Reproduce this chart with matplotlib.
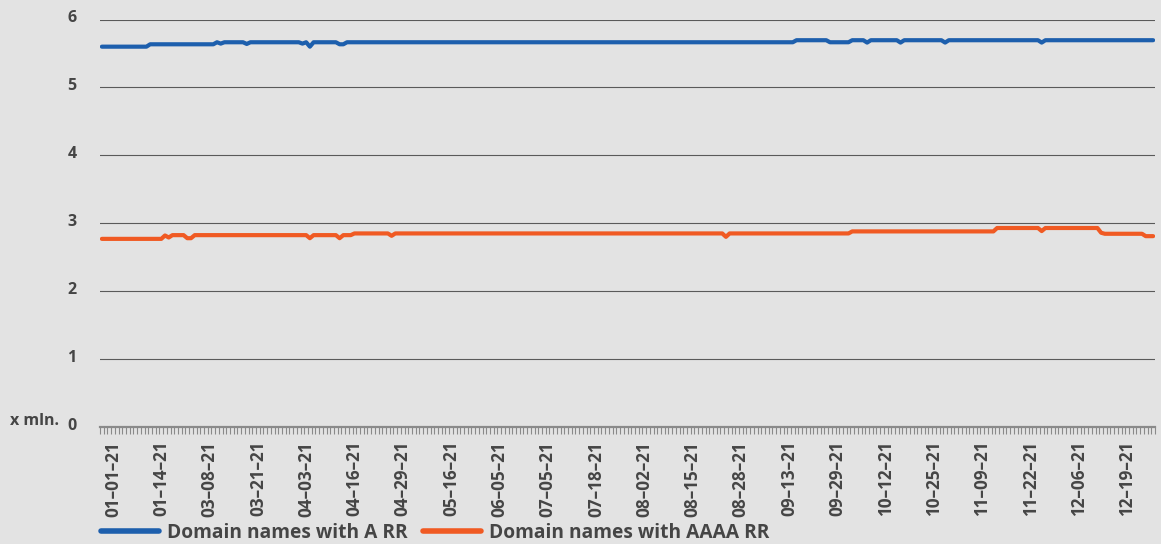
import matplotlib
matplotlib.use("Agg")
import matplotlib.pyplot as plt
import matplotlib.transforms as mtransforms

# tick labels, one every 13 categories (starting at category 3)
tick_labels = ["01–01–21", "01–14–21", "03–08–21", "03–21–21", "04–03–21", "04–16–21",
               "04–29–21", "05–16–21", "06–05–21", "07–05–21", "07–18–21", "08–02–21",
               "08–15–21", "08–28–21", "09–13–21", "09–29–21", "10–12–21", "10–25–21",
               "11–09–21", "11–22–21", "12–06–21", "12–19–21"]
first_label_pos = 3
label_step = 13
n_points = 284

# values, in millions, as (value, number of days) runs
a_rr_runs = [(5.60, 13), (5.635, 18), (5.665, 1), (5.645, 1), (5.665, 6), (5.64, 1),
             (5.665, 14), (5.645, 1), (5.665, 1), (5.60, 1), (5.665, 7), (5.635, 2),
             (5.665, 121), (5.695, 9), (5.665, 6), (5.695, 4), (5.66, 1), (5.695, 8),
             (5.66, 1), (5.695, 11), (5.66, 1), (5.695, 25), (5.66, 1), (5.695, 30)]
aaaa_rr_runs = [(2.77, 17), (2.82, 1), (2.79, 1), (2.825, 4), (2.78, 2), (2.825, 31),
                (2.78, 1), (2.825, 7), (2.78, 1), (2.825, 3), (2.85, 10), (2.815, 1),
                (2.85, 89), (2.80, 1), (2.85, 33), (2.88, 39), (2.93, 12), (2.885, 1),
                (2.93, 15), (2.86, 1), (2.845, 11), (2.81, 3)]


def expand(runs):
    out = []
    for value, count in runs:
        out += [value] * count
    return out


a_rr = expand(a_rr_runs)
aaaa_rr = expand(aaaa_rr_runs)
x = list(range(len(a_rr)))

BG = "#e3e3e3"
TXT = "#454545"
BLUE = "#1d5fad"
ORANGE = "#f05a23"
FONT = ["Open Sans", "DejaVu Sans"]

plt.rcParams["font.family"] = FONT

W, H = 1161, 544
fig = plt.figure(figsize=(W / 100, H / 100), dpi=100, facecolor=BG)
ax = fig.add_axes([100 / W, (H - 427) / H, 1055 / W, (427 - 19.5) / H])
ax.set_facecolor(BG)

ax.plot(x, a_rr, color=BLUE, lw=3, solid_capstyle="round", solid_joinstyle="round",
        label="Domain names with A RR", zorder=3)
ax.plot(x, aaaa_rr, color=ORANGE, lw=3, solid_capstyle="round", solid_joinstyle="round",
        label="Domain names with AAAA RR", zorder=3)

ax.set_xlim(-0.25, n_points - 0.75)
ax.set_ylim(0, 6)
ax.set_yticks(range(0, 7))
ax.yaxis.grid(True, color="#5a5a5a", lw=0.8)
ax.set_axisbelow(True)

for s in ["top", "right", "left"]:
    ax.spines[s].set_visible(False)
ax.spines["bottom"].set_color("#8a8a8a")
ax.spines["bottom"].set_linewidth(1.6)
ax.spines["bottom"].set_zorder(4)

ax.set_xticks([first_label_pos + label_step * i for i in range(len(tick_labels))])
ax.set_xticklabels(tick_labels, rotation=90, fontsize=12.3, color=TXT, fontweight="bold")
ax.set_xticks([i + 0.5 for i in range(-1, n_points)], minor=True)
ax.tick_params(axis="x", which="major", length=0, pad=10)
ax.tick_params(axis="x", which="minor", length=5, width=0.8, color="#8a8a8a")
ax.tick_params(axis="y", length=0, pad=17, labelsize=11.5, labelcolor=TXT)
for lab in ax.get_yticklabels():
    lab.set_fontweight("bold")
    lab.set_transform(lab.get_transform() + mtransforms.ScaledTranslation(0, 3 / 100, fig.dpi_scale_trans))

fig.text(10 / W, (H - 421) / H, "x mln.", fontsize=11.5, color=TXT, fontweight="bold",
         ha="left", va="center")

fig.legend(handles=ax.get_lines(), loc="center left", bbox_to_anchor=(101 / W, 11 / H),
           ncol=2, frameon=False, borderpad=0, borderaxespad=0, handlelength=3.0,
           handletextpad=0.45, columnspacing=0.8,
           prop={"family": FONT, "size": 13.8, "weight": "bold"},
           labelcolor=TXT)
for h in fig.legends[0].legend_handles:
    h.set_linewidth(4)

fig.savefig("out.png", dpi=100, facecolor=BG)
